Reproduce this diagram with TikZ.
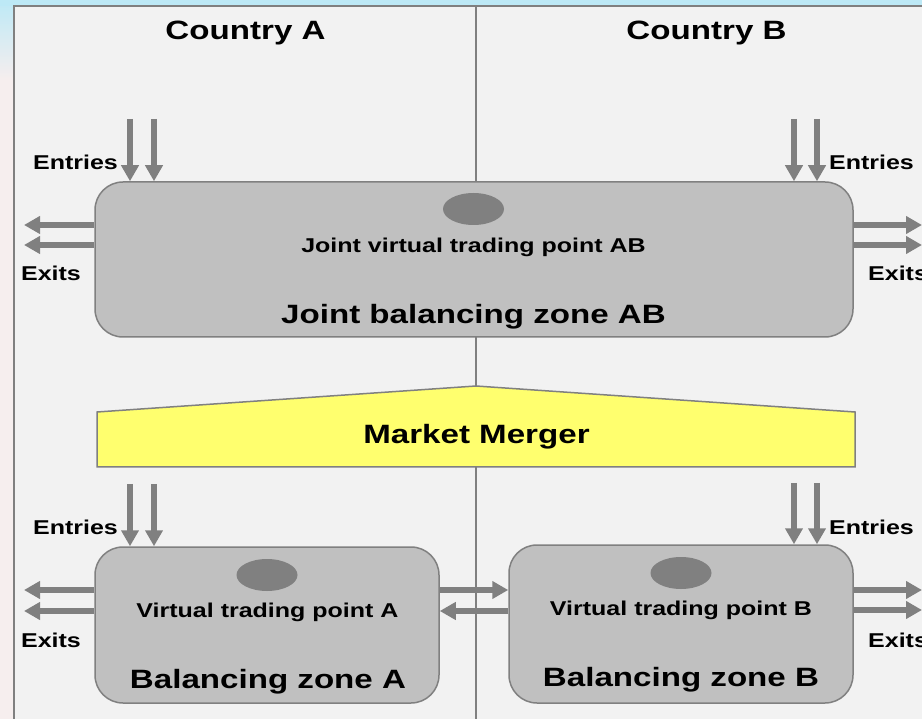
\documentclass[tikz,border=0pt]{standalone}
\usepackage{fontspec}
\setmainfont{Liberation Sans}[FakeStretch=1.25]
\usetikzlibrary{arrows.meta,shapes.geometric}

\definecolor{sky}{HTML}{BDE9F6}
\definecolor{blush}{HTML}{F6EEEE}
\definecolor{panel}{HTML}{F2F2F2}
\definecolor{rim}{HTML}{808080}
\definecolor{zonefill}{HTML}{C0C0C0}
\definecolor{pointfill}{HTML}{808080}
\definecolor{merge}{HTML}{FFFF6E}

\newcommand\bigtxt{\fontsize{26.5}{30}\selectfont\bfseries}
\newcommand\midtxt{\fontsize{20}{24}\selectfont\bfseries}

\tikzset{
  zone/.style={draw=rim, fill=zonefill, line width=1.5pt, rounded corners=28pt, inner sep=0pt},
  tradept/.style={ellipse, draw=none, fill=pointfill, minimum width=61pt, minimum height=32pt, inner sep=0pt},
  lbl/.style={inner sep=0pt, anchor=base, text=black},
  flow/.style={draw=rim, line width=5.5pt, -{Triangle[length=16pt,width=17pt]}},
}

\begin{document}
\begin{tikzpicture}[x=1pt,y=-1pt]
\clip (0,0) rectangle (922,719);

% backdrop behind the panel
\fill[blush] (0,0) rectangle (922,719);
\shade[top color=sky, bottom color=blush] (0,0) rectangle (14,80);
\fill[sky] (0,0) rectangle (922,6);

% panel and country divider
\draw[rim, fill=panel, line width=1.5pt] (14,6) rectangle (940,740);
\coordinate (divtop) at (476,6);
\coordinate (divbot) at (476,719);
\draw[rim, line width=1.5pt] (divtop) -- (divbot);

% headings
\node[lbl] (cA) at (245.5,40) {\bigtxt Country A};
\node[lbl] (cB) at (706.5,40) {\bigtxt Country B};

% ---------- joint balancing zone ----------
\node[zone, minimum width=758pt, minimum height=155pt] (jb) at (474,259.5) {};
\node[tradept] (jvp) at (473.5,209) {};
\node[lbl] (jvpt) at (473.5,252.7) {\midtxt Joint virtual trading point AB};
\node[lbl] (jbt) at (473.5,323.3) {\bigtxt Joint balancing zone AB};

% entries
\coordinate (jeA1) at (130,119);
\coordinate (jeA2) at (154,119);
\coordinate (jeB1) at (794,119);
\coordinate (jeB2) at (817,119);
\draw[flow] (jeA1) -- (jeA1 |- jb.north);
\draw[flow] (jeA2) -- (jeA2 |- jb.north);
\draw[flow] (jeB1) -- (jeB1 |- jb.north);
\draw[flow] (jeB2) -- (jeB2 |- jb.north);
\node[lbl] (jenA) at (75.5,169.5) {\midtxt Entries};
\node[lbl] (jenB) at (871.5,169.5) {\midtxt Entries};

% exits
\coordinate (jxA1) at (24,225);
\coordinate (jxA2) at (24,245);
\coordinate (jxB1) at (922,225);
\coordinate (jxB2) at (922,245);
\draw[flow] (jxA1 -| jb.west) -- (jxA1);
\draw[flow] (jxA2 -| jb.west) -- (jxA2);
\draw[flow] (jxB1 -| jb.east) -- (jxB1);
\draw[flow] (jxB2 -| jb.east) -- (jxB2);
\node[lbl] (jexA) at (51,280.5) {\midtxt Exits};
\node[lbl, anchor=base west] (jexB) at (868,280.5) {\midtxt Exits};

% ---------- market merger ----------
\coordinate (mmL) at (97,412);
\coordinate (mmP) at (476,386);
\coordinate (mmR) at (855,412);
\coordinate (mmRB) at (855,467);
\coordinate (mmLB) at (97,467);
\draw[rim, fill=merge, line width=1.5pt] (mmL) -- (mmP) -- (mmR) -- (mmRB) -- (mmLB) -- cycle;
\node[lbl] (mmt) at (476.5,443.3) {\bigtxt Market Merger};

% ---------- separate balancing zones ----------
\node[zone, minimum width=344pt, minimum height=156pt] (bA) at (267,625) {};
\node[zone, minimum width=344pt, minimum height=158pt] (bB) at (681,624) {};
\node[tradept] (vpA) at (267,575) {};
\node[tradept] (vpB) at (681,573) {};
\node[lbl] (vpAt) at (267.5,617.7) {\midtxt Virtual trading point A};
\node[lbl] (vpBt) at (681,615.7) {\midtxt Virtual trading point B};
\node[lbl] (bAt) at (268,688.7) {\bigtxt Balancing zone A};
\node[lbl] (bBt) at (681,686.7) {\bigtxt Balancing zone B};

% entries
\coordinate (eA1) at (130,484);
\coordinate (eA2) at (154,484);
\coordinate (eB1) at (794,483);
\coordinate (eB2) at (817,483);
\draw[flow] (eA1) -- (eA1 |- bA.north);
\draw[flow] (eA2) -- (eA2 |- bA.north);
\draw[flow] (eB1) -- (eB1 |- bB.north);
\draw[flow] (eB2) -- (eB2 |- bB.north);
\node[lbl] (enA) at (75.5,534.5) {\midtxt Entries};
\node[lbl] (enB) at (871.5,534.5) {\midtxt Entries};

% exits
\coordinate (xA1) at (24,590);
\coordinate (xA2) at (24,611);
\coordinate (xB1) at (922,590);
\coordinate (xB2) at (922,610);
\draw[flow] (xA1 -| bA.west) -- (xA1);
\draw[flow] (xA2 -| bA.west) -- (xA2);
\draw[flow] (xB1 -| bB.east) -- (xB1);
\draw[flow] (xB2 -| bB.east) -- (xB2);
\node[lbl] (exA) at (51,647.5) {\midtxt Exits};
\node[lbl, anchor=base west] (exB) at (868,647.5) {\midtxt Exits};

% exchange between the two zones
\coordinate (ab) at (0,590);
\coordinate (ba) at (0,611);
\draw[flow] (ab -| bA.east) -- (ab -| bB.west);
\draw[flow] (ba -| bB.west) -- (ba -| bA.east);
\end{tikzpicture}
\end{document}
